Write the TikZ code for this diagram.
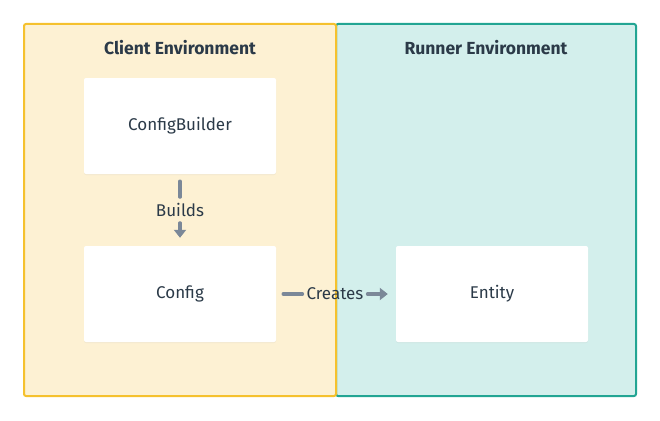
\documentclass[tikz,border=0pt]{standalone}
\usepackage{fontspec}
\setmainfont{Fira Sans}
\usepackage{xcolor}
\usepackage{tikz}
\usetikzlibrary{positioning, arrows.meta, shadows}

\definecolor{clientfill}{HTML}{FDF1D3}
\definecolor{clientline}{HTML}{F5C12E}
\definecolor{runnerfill}{HTML}{D3EFEC}
\definecolor{runnerline}{HTML}{22A593}
\definecolor{inkdark}{HTML}{2B3A48}
\definecolor{arrowgray}{HTML}{7B8898}

\tikzset{
  envbox/.style={draw, line width=2pt, rounded corners=2pt},
  envtitle/.style={text=inkdark, font=\fontsize{17.5}{20}\selectfont\bfseries},
  classbox/.style={fill=white, rounded corners=2pt, minimum width=192pt, minimum height=96pt,
    text=inkdark, font=\fontsize{17}{20}\selectfont,
    drop shadow={opacity=0.08, shadow xshift=0pt, shadow yshift=-1pt}},
  rel/.style={draw=arrowgray, line width=3.4pt, line cap=round},
  reltip/.style={-{Triangle[length=8pt,width=12pt]}},
  rellabel/.style={text=inkdark, font=\fontsize{17}{20}\selectfont, inner sep=0pt}
}

\begin{document}
\begin{tikzpicture}[x=1pt, y=-1pt]
  \useasboundingbox (0,0) rectangle (660,420);

  % Environments
  \draw[envbox, draw=runnerline, fill=runnerfill] (336,24) rectangle (636,396);
  \draw[envbox, draw=clientline, fill=clientfill] (24,24) rectangle (336,396);
  \node[envtitle] (clienttitle) at (180,48) {Client Environment};
  \node[envtitle] (runnertitle) at (486,48) {Runner Environment};

  % Classes
  \node[classbox] (builder) at (180,126) {ConfigBuilder};
  \node[classbox] (config) at (180,294) {Config};
  \node[classbox] (entity) at (492,294) {Entity};

  % Relations
  \node[rellabel] (builds) at (180,210) {Builds};
  \node[rellabel] (creates) at (335,294) {Creates};
  \draw[rel, shorten <=7pt, shorten >=6pt] (builder) -- (builds);
  \draw[rel, reltip, shorten <=6pt, shorten >=8pt] (builds) -- (config);
  \draw[rel, shorten <=7pt, shorten >=4pt] (config) -- (creates);
  \draw[rel, reltip, shorten <=4pt, shorten >=8pt] (creates) -- (entity);
\end{tikzpicture}
\end{document}
